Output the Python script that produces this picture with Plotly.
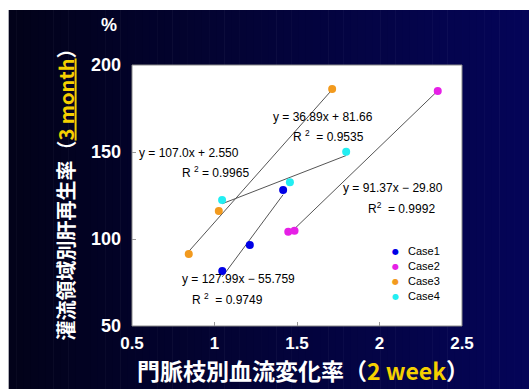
import plotly.graph_objects as go

# ---- data ----
cases = ["Case1", "Case2", "Case3", "Case4"]
case1_x = [1.047, 1.214, 1.416]
case1_y = [81.6, 96.6, 128.2]
case2_x = [1.447, 1.485, 2.353]
case2_y = [104.2, 104.8, 185.1]
case3_x = [0.844, 1.026, 1.713]
case3_y = [91.4, 116.1, 186.2]
case4_x = [1.046, 1.457, 1.798]
case4_y = [122.4, 132.6, 150.2]

# linear fits per case (as printed)
fit_slope = ["127.99", "91.37", "107.0", "36.89"]
fit_intercept = ["-55.759", "-29.80", "2.550", "81.66"]
fit_r2 = ["0.9749", "0.9992", "0.9965", "0.9535"]

x_ticks = [0.5, 1, 1.5, 2, 2.5]
x_ticktext = ["0.5", "1", "1.5", "2", "2.5"]
y_ticks = [50, 100, 150, 200]

colors = ["#0000e6", "#e620e6", "#f29a1e", "#22eef2"]

xs = [case1_x, case2_x, case3_x, case4_x]
ys = [case1_y, case2_y, case3_y, case4_y]

W, H = 529, 389
L, R, T, B = 131.5, 67, 65, 63
PW, PH = W - L - R, H - T - B


def px(xp):
    return (xp - L) / PW


def py(yp):
    return (H - B - yp) / PH


fig = go.Figure()

# regression lines over each case's x span
for i in range(4):
    m, c = float(fit_slope[i]), float(fit_intercept[i])
    x0, x1 = min(xs[i]), max(xs[i])
    fig.add_trace(go.Scatter(x=[x0, x1], y=[m * x0 + c, m * x1 + c], mode="lines",
                             line=dict(color="#555555", width=1),
                             hoverinfo="skip", showlegend=False))

for i in range(4):
    fig.add_trace(go.Scatter(x=xs[i], y=ys[i], mode="markers", name=cases[i],
                             marker=dict(color=colors[i], size=8, line=dict(width=0)),
                             showlegend=False))

# dark gradient backdrop
shapes = []
N = 70
x_start, x_end = 8, W
for k in range(N):
    a = x_start + (x_end - x_start) * k / N
    b = x_start + (x_end - x_start) * (k + 1) / N + 0.6
    t = k / (N - 1)
    r = int(2 + 3 * t)
    g = int(2 + 3 * t)
    bl = int(26 + 62 * t)
    shapes.append(dict(type="rect", xref="paper", yref="paper", layer="below",
                       x0=px(a), x1=px(b), y0=py(H), y1=py(10),
                       fillcolor=f"rgb({r},{g},{bl})", line=dict(width=0)))
# white plotting panel
shapes.append(dict(type="rect", xref="paper", yref="paper", layer="below",
                   x0=0, x1=1, y0=0, y1=1, fillcolor="white",
                   line=dict(color="#8a8a8a", width=1)))

ann = []
eq_font = dict(family="Liberation Sans, Arial", size=12, color="black")
leg_font = dict(family="Liberation Sans, Arial", size=11, color="black")


def eq_text(i):
    c = fit_intercept[i]
    sign = "−" if c.startswith("-") else "+"
    return f"y = {fit_slope[i]}x {sign} {c.lstrip('-')}"


# (case index, eq position, r2 position, r2 label style)
eq_places = [
    (2, (137, 152.7), (180, 171.7), "R <sup>2</sup> = "),
    (3, (270.7, 117.3), (290.7, 135.7), "R <sup>2</sup>  = "),
    (1, (340.7, 188), (366, 207.7), "R<sup>2</sup>  = "),
    (0, (179.3, 279.3), (190, 299), "R <sup>2</sup>  = "),
]
for i, (ex, ey), (rx, ry), rlab in eq_places:
    ann.append(dict(text=eq_text(i), xref="paper", yref="paper", x=px(ex), y=py(ey),
                    xanchor="left", yanchor="middle", showarrow=False, font=eq_font))
    ann.append(dict(text=rlab + fit_r2[i], xref="paper", yref="paper", x=px(rx), y=py(ry),
                    xanchor="left", yanchor="middle", showarrow=False, font=eq_font))

# legend
for i in range(4):
    yy = 251.7 + 15 * i
    ann.append(dict(text="●", xref="paper", yref="paper", x=px(395), y=py(yy),
                    xanchor="center", yanchor="middle", showarrow=False,
                    font=dict(family="DejaVu Sans", size=8, color=colors[i])))
    ann.append(dict(text=cases[i], xref="paper", yref="paper", x=px(406), y=py(yy - 1),
                    xanchor="left", yanchor="middle", showarrow=False, font=leg_font))

title_font = "Noto Sans CJK JP, Liberation Sans, sans-serif"
yellow = "#f5d000"
ann.append(dict(text=f"灌流領域別肝再生率（<span style='color:{yellow}'><u>3 month</u></span>）",
                xref="paper", yref="paper", x=px(64), y=py(190), textangle=-90,
                xanchor="center", yanchor="middle", showarrow=False,
                font=dict(family=title_font, size=20, color="white", weight="bold")))
ann.append(dict(text=f"門脈枝別血流変化率（<span style='color:{yellow}'>2 week</span>）",
                xref="paper", yref="paper", x=px(303), y=py(370.5),
                xanchor="center", yanchor="middle", showarrow=False,
                font=dict(family=title_font, size=23, color="white", weight="bold")))
ann.append(dict(text="%", xref="paper", yref="paper", x=px(108), y=py(25),
                xanchor="center", yanchor="middle", showarrow=False,
                font=dict(family="Liberation Sans, Arial", size=18, color="white", weight="bold")))

fig.update_layout(
    width=W, height=H,
    margin=dict(l=L, r=R, t=T, b=B),
    paper_bgcolor="white",
    plot_bgcolor="rgba(0,0,0,0)",
    shapes=shapes,
    annotations=ann,
    showlegend=False,
    xaxis=dict(range=[0.5, 2.5], tickvals=x_ticks, ticktext=x_ticktext,
               ticks="inside", ticklen=4, tickcolor="#999999", showgrid=False,
               zeroline=False, showline=False, ticklabelstandoff=5,
               tickfont=dict(family="Liberation Sans, Arial", size=17, color="white", weight="bold")),
    yaxis=dict(range=[50, 200], tickvals=y_ticks, ticktext=[str(v) for v in y_ticks],
               ticks="inside", ticklen=4, tickcolor="#999999", showgrid=False,
               zeroline=False, showline=False, ticklabelstandoff=10,
               tickfont=dict(family="Liberation Sans, Arial", size=18, color="white", weight="bold")),
)

fig.write_html("out.html")
